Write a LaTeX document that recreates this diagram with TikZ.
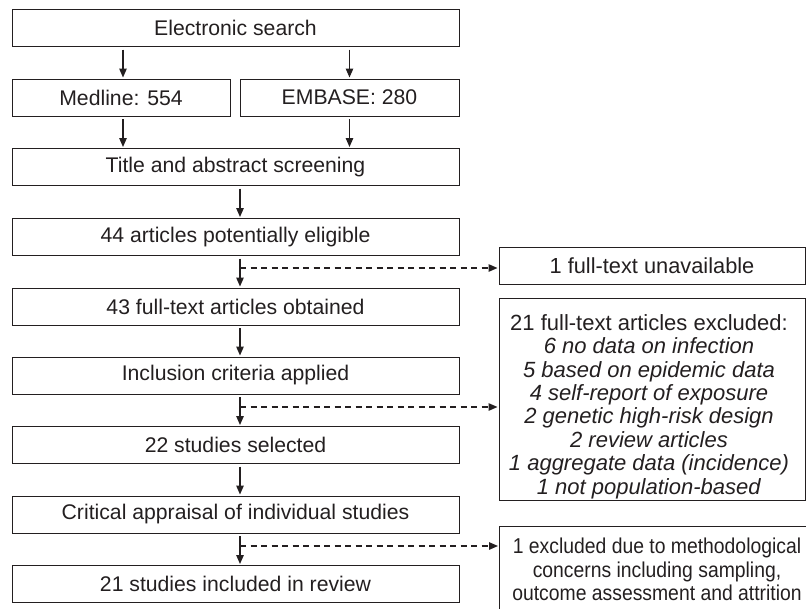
\documentclass[tikz,border=0pt]{standalone}
\usepackage{fontspec}
\setmainfont{Liberation Sans}
\newfontfamily\condfont{Liberation Sans}[FakeStretch=0.9]
\usetikzlibrary{arrows.meta}
\definecolor{ink}{HTML}{231F20}
\begin{document}
\begin{tikzpicture}[x=1pt,y=-1pt,
  font=\fontsize{21.2}{23.4}\selectfont,
  box/.style={draw=ink, line width=1pt, inner sep=0pt, text=ink, minimum height=37pt},
  lbox/.style={box, minimum width=447pt},
  rbox/.style={box, minimum width=306pt},
  arr/.style={draw=ink, line width=1.3pt, -{Triangle[length=9pt,width=7.5pt]}, shorten <=2.5pt, shorten >=1pt},
  darr/.style={draw=ink, line width=1.3pt, -{Triangle[length=9pt,width=7.5pt]}, dash pattern=on 6pt off 4.5pt, shorten >=1pt},
  txt/.style={text=ink, align=center, inner sep=0pt}]
\useasboundingbox (0,0) rectangle (806,608);
\clip (0,0) rectangle (806,608);

% left column
\node[lbox] (es) at (235.5,28) {Electronic search};
\node[box, minimum width=218pt] (ml) at (121,97.5) {Medline: 554};
\node[box, minimum width=219pt] (em) at (349.5,97.5) {EMBASE: 280};
\node[lbox] (ti) at (235.5,167) {Title and abstract screening};
\node[lbox] (a44) at (235.5,237) {44 articles potentially eligible};
\node[lbox] (a43) at (235.5,306.5) {43 full-text articles obtained};
\node[lbox] (inc) at (235.5,375.5) {Inclusion criteria applied};
\node[lbox] (s22) at (235.5,445) {22 studies selected};
\node[lbox] (cr) at (235.5,514.5) {Critical appraisal of individual studies};
\node[lbox] (s21) at (235.5,584) {21 studies included in review};

% right column
\node[rbox, font=\fontsize{21.8}{23.4}\selectfont] (un) at (652,266) {1 full-text unavailable};
\node[rbox, minimum height=202pt] (ex) at (652,399) {};
\node[txt, font=\fontsize{22}{23.4}\selectfont] (ext) at (649,406.5) {21 full-text articles excluded:\\
  \textit{6 no data on infection}\\
  \textit{5 based on epidemic data}\\
  \textit{4 self-report of exposure}\\
  \textit{2 genetic high-risk design}\\
  \textit{2 review articles}\\
  \textit{1 aggregate data (incidence)}\\
  \textit{1 not population-based}};
\node[box, minimum width=320pt, minimum height=100pt, anchor=north west] (me) at (499,526) {};
\node[txt, font=\condfont\fontsize{21.5}{23.8}\selectfont] (met) at (657,569.5) {1 excluded due to methodological\\
  concerns including sampling,\\
  outcome assessment and attrition};

% connectors
\coordinate (ax) at (240,0);
\coordinate (d1) at (240,268);
\coordinate (d2) at (240,407);
\coordinate (d3) at (240,546);
\draw[arr] ([xshift=2pt]ml.north |- es.south) -- ([xshift=2pt]ml.north);
\draw[arr] (em.north |- es.south) -- (em.north);
\draw[arr] ([xshift=2pt]ml.south) -- ([xshift=2pt]ml.south |- ti.north);
\draw[arr] (em.south) -- (em.south |- ti.north);
\draw[arr] (ax |- ti.south) -- (ax |- a44.north);
\draw[arr] (ax |- a44.south) -- (ax |- a43.north);
\draw[arr] (ax |- a43.south) -- (ax |- inc.north);
\draw[arr] (ax |- inc.south) -- (ax |- s22.north);
\draw[arr] (ax |- s22.south) -- (ax |- cr.north);
\draw[arr] (ax |- cr.south) -- (ax |- s21.north);
\draw[darr] (d1) -- (d1 -| un.west);
\draw[darr] (d2) -- (d2 -| ex.west);
\draw[darr] (d3) -- (d3 -| me.west);
\end{tikzpicture}
\end{document}
